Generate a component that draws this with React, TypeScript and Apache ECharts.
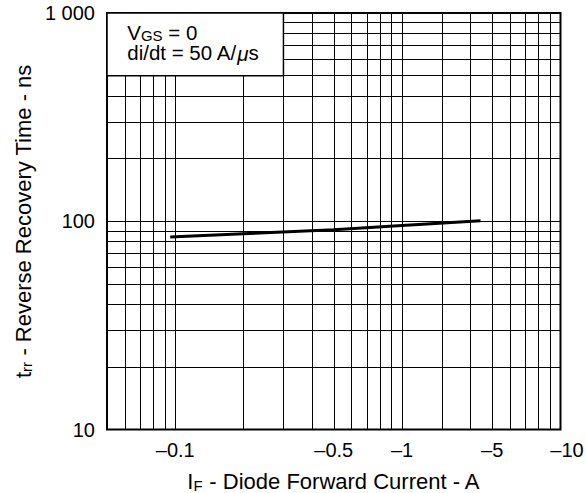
import React, { useEffect, useRef } from "react";
import * as echarts from "echarts";

// Axis ranges (plotted magnitudes; log scales)
const xRange = [0.05, 5];
const yRange = [10, 1000];

// Grid lines
const xGrid = [0.06, 0.07, 0.08, 0.09, 0.1, 0.2, 0.3, 0.4, 0.5, 0.6, 0.7, 0.8, 0.9, 1, 1.5, 2, 2.5, 3, 3.5, 4, 4.5];
const yGrid = [20, 30, 40, 50, 60, 70, 80, 90, 100, 200, 300, 400, 500, 600, 700, 800, 900];

// Tick labels
const xLabelPos = [0.1, 0.5, 1, 2.5, 5];
const xTickLabels = ["–0.1", "–0.5", "–1", "–5", "–10"];
const yLabelPos = [10, 100, 1000];
const yTickLabels = ["10", "100", "1 000"];

// Curve: trr vs IF
const curveX = [0.095, 0.2, 0.5, 1, 2.22];
const curveY = [84, 87, 91, 95.3, 100.5];

// Annotation box extent
const boxX = [0.05, 0.3];
const boxY = [500, 1000];

const L = (v: number) => Math.log10(v);
const FONT = "'Liberation Sans', Arial, Helvetica, sans-serif";

function nearestIdx(arr: number[], v: number) {
  let best = 0;
  let bd = Infinity;
  arr.forEach((a, i) => {
    const d = Math.abs(L(a) - v);
    if (d < bd) {
      bd = d;
      best = i;
    }
  });
  return best;
}

export default function App() {
  const ref = useRef<HTMLDivElement>(null);
  useEffect(() => {
    if (!ref.current) return;
    const chart = echarts.init(ref.current, null, { renderer: "svg" });
    const nameRich = {
      n: { fontSize: 22, fontFamily: FONT, color: "#000", lineHeight: 23, verticalAlign: "bottom" },
      s: { fontSize: 15, fontFamily: FONT, color: "#000", lineHeight: 16, verticalAlign: "bottom" },
    };
    const option: any = {
      animation: false,
      backgroundColor: "#fff",
      textStyle: { fontFamily: FONT, color: "#000" },
      grid: {
        left: 107,
        right: 25.5,
        top: 13,
        bottom: 63.5,
        containLabel: false,
        outerBoundsMode: "none",
        show: true,
        borderColor: "#000",
        borderWidth: 2,
        backgroundColor: "transparent",
      },
      xAxis: {
        type: "value",
        min: L(xRange[0]),
        max: L(xRange[1]),
        axisLine: { show: false },
        axisTick: { show: false, customValues: xGrid.map(L) },
        splitLine: { show: true, lineStyle: { color: "#000", width: 1 } },
        axisLabel: {
          customValues: xLabelPos.map(L),
          margin: 10,
          fontSize: 20,
          color: "#000",
          fontFamily: FONT,
          formatter: (v: number) => {
            const i = nearestIdx(xLabelPos, v);
            return i === xTickLabels.length - 1 ? `{r|${xTickLabels[i]}}` : xTickLabels[i];
          },
          rich: {
            r: { fontSize: 20, fontFamily: FONT, color: "#000", padding: [0, 0, 0, 13] },
          },
        },
        name: "{n|I}{s|F}{n| - Diode Forward Current - A}",
        nameLocation: "middle",
        nameGap: 40,
        nameTextStyle: { rich: nameRich },
      },
      yAxis: {
        type: "value",
        min: L(yRange[0]),
        max: L(yRange[1]),
        axisLine: { show: false },
        axisTick: { show: false, customValues: yGrid.map(L) },
        splitLine: { show: true, lineStyle: { color: "#000", width: 1 } },
        axisLabel: {
          customValues: yLabelPos.map(L),
          margin: 12,
          fontSize: 20,
          color: "#000",
          fontFamily: FONT,
          formatter: (v: number) => yTickLabels[nearestIdx(yLabelPos, v)],
        },
        name: "{n|t}{s|rr}{n| - Reverse Recovery Time - ns}",
        nameLocation: "middle",
        nameGap: 73,
        nameTextStyle: { rich: nameRich },
      },
      series: [
        {
          type: "line",
          data: curveX.map((x, i) => [L(x), L(curveY[i])]),
          showSymbol: false,
          symbol: "none",
          lineStyle: { color: "#000", width: 3 },
          z: 3,
          markArea: {
            silent: true,
            itemStyle: { color: "#fff", borderColor: "#000", borderWidth: 1.5 },
            label: {
              show: true,
              position: "insideTopLeft",
              distance: 0,
              padding: [10, 0, 0, 21],
              formatter: "{n|V}{s|GS}{n| = 0}\n{n|di/dt = 50 A/}{m|μ}{n|s}",
              rich: {
                n: { fontSize: 20.5, fontFamily: FONT, color: "#000", lineHeight: 20.5, verticalAlign: "bottom" },
                s: { fontSize: 15, fontFamily: FONT, color: "#000", lineHeight: 15, verticalAlign: "bottom" },
                m: { fontSize: 20.5, fontFamily: FONT, fontStyle: "italic", color: "#000", lineHeight: 20.5, verticalAlign: "bottom" },
              },
            },
            data: [
              [
                { xAxis: L(boxX[0]), yAxis: L(boxY[0]) },
                { xAxis: L(boxX[1]), yAxis: L(boxY[1]) },
              ],
            ],
          },
        },
      ],
    };
    chart.setOption(option);
    return () => chart.dispose();
  }, []);
  return (
    <div
      ref={ref}
      style={{ position: "absolute", left: 0, top: 0, width: 586, height: 493 }}
    />
  );
}
